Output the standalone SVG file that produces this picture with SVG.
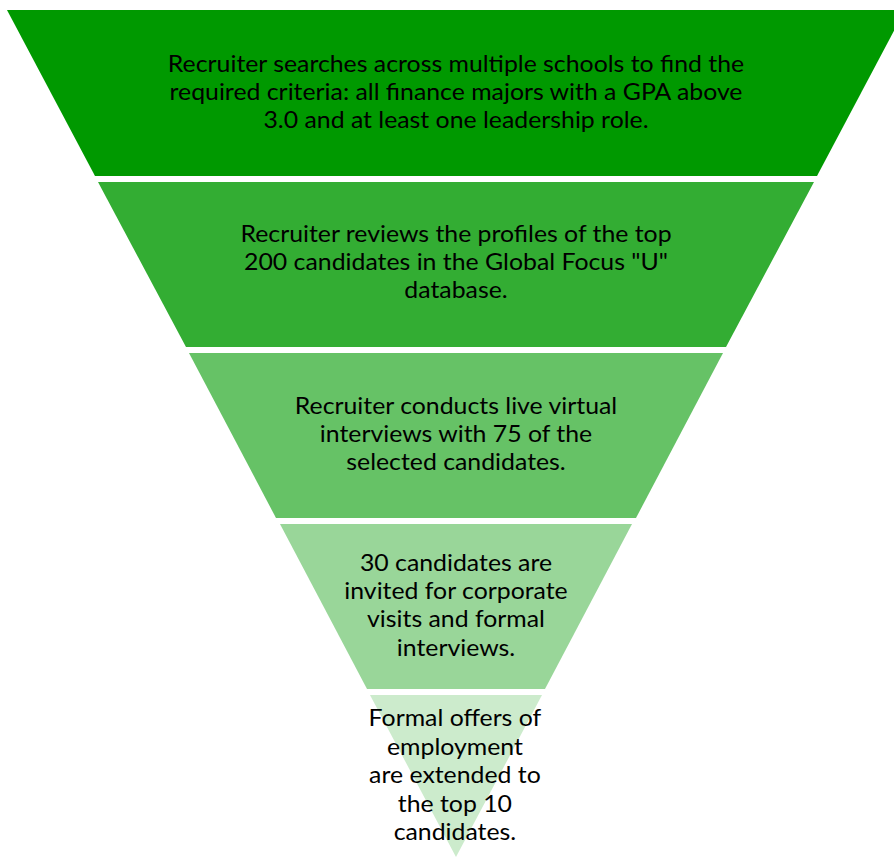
<svg xmlns="http://www.w3.org/2000/svg" width="894" height="857" viewBox="0 0 894 857">
<style>
text{font-family:Lato,"Open Sans","Liberation Sans",sans-serif;font-size:23px;fill:#000;text-anchor:middle}
.t{transform:matrix(1.08,0,0,1,-36.48,0)}
</style>
<rect width="894" height="857" fill="#fff"/>
<g id="stage1">
<polygon points="7,10 905,10 817,176 95,176" fill="#009900"/>
<g class="t">
<text x="456" y="72">Recruiter searches across multiple schools to find the</text>
<text x="456" y="100">required criteria: all finance majors with a GPA above</text>
<text x="456" y="128">3.0 and at least one leadership role.</text>
</g>
</g>
<g id="stage2">
<polygon points="98,182 814,182 726,347 186,347" fill="#33AD33"/>
<g class="t">
<text x="456" y="242">Recruiter reviews the profiles of the top</text>
<text x="456" y="270">200 candidates in the Global Focus "U"</text>
<text x="456" y="298">database.</text>
</g>
</g>
<g id="stage3">
<polygon points="189,353 723,353 636,518 276,518" fill="#66C266"/>
<g class="t">
<text x="456" y="414">Recruiter conducts live virtual</text>
<text x="456" y="442">interviews with 75 of the</text>
<text x="456" y="470">selected candidates.</text>
</g>
</g>
<g id="stage4">
<polygon points="280,524 632,524 545,689 367,689" fill="#99D699"/>
<g class="t">
<text x="456" y="571">30 candidates are</text>
<text x="456" y="599">invited for corporate</text>
<text x="456" y="627">visits and formal</text>
<text x="456" y="656">interviews.</text>
</g>
</g>
<g id="stage5">
<polygon points="370,695 542,695 456,857" fill="#CCEBCC"/>
<g class="t">
<text x="455" y="726">Formal offers of</text>
<text x="455" y="755">employment</text>
<text x="455" y="783">are extended to</text>
<text x="455" y="812">the top 10</text>
<text x="455" y="840">candidates.</text>
</g>
</g>
<g id="connectors"/>
</svg>
